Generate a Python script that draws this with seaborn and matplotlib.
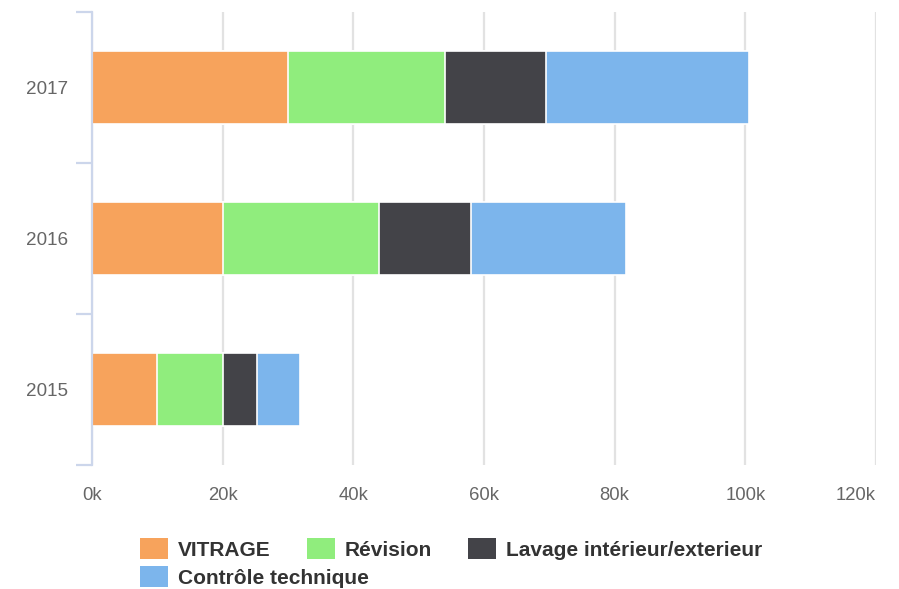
import matplotlib
matplotlib.use("Agg")
import matplotlib.pyplot as plt
import seaborn as sns
import pandas as pd
import numpy as np
from matplotlib.patches import Patch
from matplotlib.ticker import FuncFormatter, FixedLocator

# ---- data ----
years = ["2017", "2016", "2015"]
series_names = ["VITRAGE", "Révision", "Lavage intérieur/exterieur", "Contrôle technique"]
vitrage = [30000, 20000, 10000]
revision = [24000, 24000, 10000]
lavage = [15500, 14000, 5300]
controle = [31000, 23800, 6600]
colors = ["#f7a35c", "#90ed7d", "#434348", "#7cb5ec"]
x_ticks = [0, 20000, 40000, 60000, 80000, 100000, 120000]

sns.set_theme(style="white")
plt.rcParams["font.family"] = ["Liberation Sans", "DejaVu Sans"]

fig = plt.figure(figsize=(8.99, 5.89), dpi=100)
ax = fig.add_axes([92 / 899, 1 - 465 / 589, (876 - 92) / 899, (465 - 12) / 589])

values = [vitrage, revision, lavage, controle]
cum = np.cumsum(np.array(values), axis=0)

# draw from largest cumulative to smallest so segments stack visually
for i in range(len(series_names) - 1, -1, -1):
    df = pd.DataFrame({"year": years, "total": cum[i]})
    sns.barplot(data=df, x="total", y="year", order=years, orient="h",
                color=colors[i], saturation=1, width=0.485,
                edgecolor="white", linewidth=1.2, ax=ax, zorder=3)

ax.set_xlim(0, 120000)
ax.set_ylim(2.5, -0.5)
ax.xaxis.set_major_locator(FixedLocator(x_ticks))
ax.xaxis.set_major_formatter(FuncFormatter(lambda v, p: f"{int(v/1000)}k"))
ax.set_xlabel("")
ax.set_ylabel("")

ax.grid(axis="x", color="#e2e2e2", linewidth=1.6, zorder=0)
ax.grid(axis="y", visible=False)
ax.set_axisbelow(True)

for s in ["top", "right", "bottom"]:
    ax.spines[s].set_visible(False)
ax.spines["left"].set_color("#ccd6eb")
ax.spines["left"].set_linewidth(1.6)
ax.spines["left"].set_zorder(4)

ax.tick_params(axis="x", length=0, pad=16, labelsize=13.3, labelcolor="#666666")
# last label kept inside the plot, right-aligned to its grid line
xlabels = ax.get_xticklabels()
fig.canvas.draw()
ax.get_xticklabels()[-1].set_horizontalalignment("right")

ax.set_yticks([0, 1, 2])
ax.set_yticklabels(years)
ax.tick_params(axis="y", which="major", length=0, pad=17.5, labelsize=13.6, labelcolor="#666666")
ax.yaxis.set_minor_locator(FixedLocator([-0.5, 0.5, 1.5, 2.5]))
ax.tick_params(axis="y", which="minor", length=11.5, width=1.6, color="#ccd6eb", left=True)

handles = [Patch(facecolor=c, edgecolor="none") for c in colors]
leg_kw = dict(frameon=False, handlelength=1.35, handleheight=1.12, handletextpad=0.48,
              columnspacing=1.72, borderpad=0, borderaxespad=0,
              prop={"size": 15, "weight": "bold"})
leg1 = fig.legend(handles[:3], series_names[:3], ncol=3, loc="center left",
                  bbox_to_anchor=(140 / 899, 1 - 549 / 589), **leg_kw)
for t in leg1.get_texts():
    t.set_color("#333333")
leg2 = fig.legend(handles[3:], series_names[3:], ncol=1, loc="center left",
                  bbox_to_anchor=(140 / 899, 1 - 577 / 589), **leg_kw)
for t in leg2.get_texts():
    t.set_color("#333333")

fig.savefig("out.png", dpi=100)
